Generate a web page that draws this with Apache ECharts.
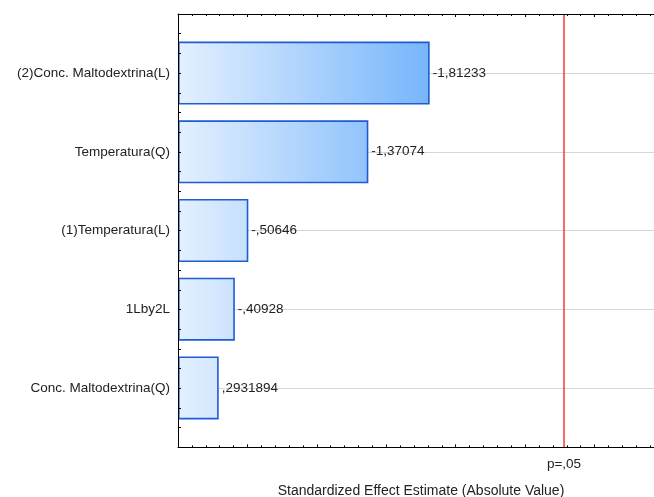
<!DOCTYPE html>
<html>
<head>
<meta charset="utf-8">
<script src="https://cdn.jsdelivr.net/npm/echarts@6/dist/echarts.min.js"></script>
<style>
  html, body { margin: 0; padding: 0; background: #fff; }
  #chart { width: 654px; height: 497px; }
</style>
</head>
<body>
<div id="chart"></div>
<script>
// Pareto chart of standardized effects
const factors = [
  '(2)Conc. Maltodextrina(L)',
  'Temperatura(Q)',
  '(1)Temperatura(L)',
  '1Lby2L',
  'Conc. Maltodextrina(Q)'
];
const effects = [-1.81233, -1.37074, -0.50646, -0.40928, 0.2931894];
const criticalT = 2.776;          // t value for p = .05
const criticalLabel = 'p=,05';
const axisTitle = 'Standardized Effect Estimate (Absolute Value)';

const FONT = 'Liberation Sans, Arial, sans-serif';
const TEXT = '#222';
const FS = 13.5;

// value shown like "-,50646" / "-1,81233"
function fmt(v) {
  return String(v).replace(/^(-?)0\./, '$1.').replace('.', ',');
}

const chart = echarts.init(document.getElementById('chart'));

const frameAxis = {
  type: 'value', min: 0, max: 3.5, interval: 0.5, z: 10,
  axisLine: { show: true, onZero: false, lineStyle: { color: '#000', width: 1 } },
  axisTick: { show: true, inside: true, length: 3, lineStyle: { color: '#000' } },
  minorTick: { show: true, splitNumber: 5, length: 2, lineStyle: { color: '#000' } },
  axisLabel: { show: false },
  splitLine: { show: false }
};

chart.setOption({
  animation: false,
  textStyle: { fontFamily: FONT },
  grid: [
    { left: 178, top: 14, width: 486, height: 433.4, outerBoundsMode: 'none' },   // frame
    { left: 178, top: 33.7, width: 486, height: 393.6, outerBoundsMode: 'none' }  // bars
  ],
  xAxis: [
    Object.assign({}, frameAxis, {
      gridIndex: 0, position: 'bottom',
      name: axisTitle, nameLocation: 'middle', nameGap: 37,
      nameTextStyle: { fontSize: 14, color: TEXT, fontFamily: FONT }
    }),
    Object.assign({}, frameAxis, { gridIndex: 0, position: 'top' }),
    { type: 'value', gridIndex: 1, min: 0, max: 3.5, show: false }
  ],
  yAxis: [
    {
      type: 'value', gridIndex: 0, min: 0.25, max: 5.75, interval: 0.25, inverse: true, z: 10,
      axisLine: { show: true, onZero: false, lineStyle: { color: '#000', width: 1 } },
      axisTick: { show: true, inside: true, length: 3, lineStyle: { color: '#000' } },
      axisLabel: {
        margin: 8, fontSize: FS, color: TEXT, fontFamily: FONT,
        formatter: v => Number.isInteger(v) && v >= 1 && v <= factors.length ? factors[v - 1] : ''
      },
      splitLine: { show: false }
    },
    { type: 'category', gridIndex: 1, data: factors, inverse: true, show: false }
  ],
  series: [
    {
      // horizontal reference lines through each factor
      type: 'line', xAxisIndex: 2, yAxisIndex: 1, data: [], z: 1, silent: true,
      markLine: {
        z: 1, silent: true, symbol: 'none', animation: false,
        label: { show: false },
        lineStyle: { color: '#d6d6d6', width: 1, type: 'solid' },
        data: factors.map(f => ({ yAxis: f }))
      }
    },
    {
      type: 'bar', xAxisIndex: 2, yAxisIndex: 1, z: 2,
      barWidth: '80%',
      data: effects.map(Math.abs),
      itemStyle: {
        color: {
          type: 'linear', x: 178, y: 0, x2: 436, y2: 0, global: true,
          colorStops: [
            { offset: 0, color: '#e4f0ff' },
            { offset: 1, color: '#74b4fb' }
          ]
        },
        borderColor: '#1f5bd3',
        borderWidth: 1.6
      },
      label: {
        show: true, position: 'right', distance: 3,
        fontSize: FS, color: TEXT, fontFamily: FONT,
        formatter: p => fmt(effects[p.dataIndex])
      }
    },
    {
      // significance threshold
      type: 'line', xAxisIndex: 0, yAxisIndex: 0, data: [], z: 3, silent: true,
      markLine: {
        z: 3, silent: true, symbol: 'none', animation: false,
        lineStyle: { color: '#f23a3a', width: 1.5, type: 'solid' },
        label: {
          show: true, position: 'end', distance: 10,
          fontSize: FS, color: TEXT, fontFamily: FONT,
          formatter: criticalLabel
        },
        data: [{ xAxis: criticalT }]
      }
    }
  ]
});
</script>
</body>
</html>
